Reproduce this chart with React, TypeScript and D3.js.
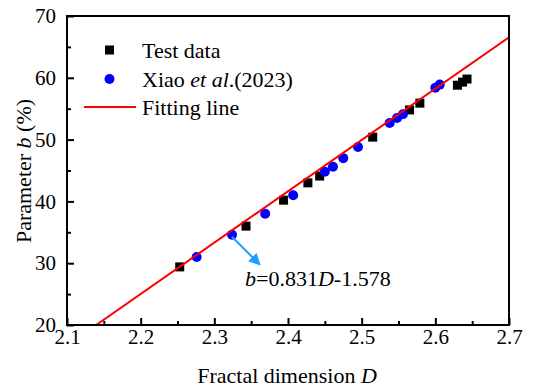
import React, { useEffect, useRef } from "react";
import * as d3 from "d3";

const testD = [2.253, 2.343, 2.394, 2.427, 2.443, 2.515, 2.565, 2.579, 2.63, 2.637, 2.643];
const testB = [29.4, 36.0, 40.2, 43.0, 44.1, 50.4, 54.8, 55.9, 58.8, 59.3, 59.8];

const xiaoD = [2.276, 2.324, 2.369, 2.407, 2.45, 2.461, 2.475, 2.495, 2.538, 2.548, 2.556, 2.6, 2.606];
const xiaoB = [31.0, 34.6, 38.0, 41.0, 44.8, 45.6, 47.0, 48.8, 52.7, 53.5, 54.1, 58.4, 58.9];

const fitSlope = 83.1;
const fitIntercept = -157.8;

const xTicks = [2.1, 2.2, 2.3, 2.4, 2.5, 2.6, 2.7];
const yTicks = [20, 30, 40, 50, 60, 70];

export default function App() {
  const svgRef = useRef<SVGSVGElement>(null);

  useEffect(() => {
    if (!svgRef.current) return;
    const width = 533;
    const height = 390;
    const margin = { top: 16, right: 24, bottom: 65, left: 67 };
    const font = "Liberation Serif";

    const svg = d3.select(svgRef.current);
    svg.selectAll("*").remove();
    svg.attr("width", width).attr("height", height).attr("viewBox", `0 0 ${width} ${height}`);

    const x = d3.scaleLinear().domain([2.1, 2.7]).range([margin.left, width - margin.right]);
    const y = d3.scaleLinear().domain([20, 70]).range([height - margin.bottom, margin.top]);

    const clipId = "plot-clip";
    svg
      .append("clipPath")
      .attr("id", clipId)
      .append("rect")
      .attr("x", margin.left)
      .attr("y", margin.top)
      .attr("width", width - margin.left - margin.right)
      .attr("height", height - margin.top - margin.bottom);

    // fitting line, from where it crosses b = 20 to the right edge
    const d0 = (20 - fitIntercept) / fitSlope;
    const lineData: [number, number][] = [d0, 2.7].map((d) => [d, fitSlope * d + fitIntercept]);
    const linePath = d3
      .line<[number, number]>()
      .x((d) => x(d[0]))
      .y((d) => y(d[1]))(lineData);

    // test data squares
    const sq = 9;
    svg
      .append("g")
      .selectAll("rect")
      .data(testD.map((d, i) => [d, testB[i]]))
      .join("rect")
      .attr("x", (d) => x(d[0]) - sq / 2)
      .attr("y", (d) => y(d[1]) - sq / 2)
      .attr("width", sq)
      .attr("height", sq)
      .attr("fill", "#000");

    // Xiao et al. circles
    svg
      .append("g")
      .selectAll("circle")
      .data(xiaoD.map((d, i) => [d, xiaoB[i]]))
      .join("circle")
      .attr("cx", (d) => x(d[0]))
      .attr("cy", (d) => y(d[1]))
      .attr("r", 5)
      .attr("fill", "#0000ff");

    svg
      .append("path")
      .attr("clip-path", `url(#${clipId})`)
      .attr("d", linePath)
      .attr("stroke", "#ff0000")
      .attr("stroke-width", 2)
      .attr("fill", "none");

    // frame
    svg
      .append("rect")
      .attr("x", margin.left)
      .attr("y", margin.top)
      .attr("width", width - margin.left - margin.right)
      .attr("height", height - margin.top - margin.bottom)
      .attr("fill", "none")
      .attr("stroke", "#000")
      .attr("stroke-width", 2);

    // x axis
    const xAxis = svg
      .append("g")
      .attr("transform", `translate(0,${height - margin.bottom})`)
      .call(d3.axisBottom(x).tickValues(xTicks).tickSize(-7).tickFormat(d3.format(".1f")));
    xAxis.attr("font-family", font).attr("font-size", 21);
    xAxis.select(".domain").remove();
    xAxis.selectAll(".tick line").attr("stroke-width", 2);
    xAxis
      .selectAll(".tick text")
      .attr("fill", "#000")
      .attr("dy", null)
      .attr("y", 19);
    svg
      .append("g")
      .attr("transform", `translate(0,${height - margin.bottom})`)
      .call(
        d3
          .axisBottom(x)
          .tickValues(d3.range(2.15, 2.7, 0.1))
          .tickSize(-4)
          .tickFormat(() => "")
      )
      .call((g) => g.select(".domain").remove())
      .selectAll(".tick line")
      .attr("stroke-width", 2);

    // y axis
    const yAxis = svg
      .append("g")
      .attr("transform", `translate(${margin.left},0)`)
      .call(d3.axisLeft(y).tickValues(yTicks).tickSize(-7));
    yAxis.attr("font-family", font).attr("font-size", 21);
    yAxis.select(".domain").remove();
    yAxis.selectAll(".tick line").attr("stroke-width", 2);
    yAxis.selectAll(".tick text").attr("fill", "#000").attr("x", -11);
    svg
      .append("g")
      .attr("transform", `translate(${margin.left},0)`)
      .call(
        d3
          .axisLeft(y)
          .tickValues([25, 35, 45, 55, 65])
          .tickSize(-4)
          .tickFormat(() => "")
      )
      .call((g) => g.select(".domain").remove())
      .selectAll(".tick line")
      .attr("stroke-width", 2);

    // axis titles
    const xt = svg
      .append("text")
      .attr("x", 287)
      .attr("y", 383)
      .attr("text-anchor", "middle")
      .attr("font-family", font)
      .attr("font-size", 22)
      .attr("fill", "#000");
    xt.append("tspan").text("Fractal dimension ");
    xt.append("tspan").attr("font-style", "italic").text("D");

    const yt = svg
      .append("text")
      .attr("transform", `translate(31,171) rotate(-90)`)
      .attr("text-anchor", "middle")
      .attr("font-family", font)
      .attr("font-size", 22)
      .attr("fill", "#000");
    yt.append("tspan").text("Parameter ");
    yt.append("tspan").attr("font-style", "italic").text("b");
    yt.append("tspan").text(" (%)");

    // legend
    const lg = svg.append("g").attr("font-family", font).attr("font-size", 22).attr("fill", "#000");
    lg.append("rect").attr("x", 105).attr("y", 45.5).attr("width", sq).attr("height", sq).attr("fill", "#000");
    lg.append("text").attr("x", 142).attr("y", 58).text("Test data");
    lg.append("circle").attr("cx", 109.5).attr("cy", 79).attr("r", 5).attr("fill", "#0000ff");
    const lt = lg.append("text").attr("x", 142).attr("y", 87);
    lt.append("tspan").text("Xiao ");
    lt.append("tspan").attr("font-style", "italic").text("et al");
    lt.append("tspan").text(".(2023)");
    lg.append("line")
      .attr("x1", 84)
      .attr("x2", 136)
      .attr("y1", 107)
      .attr("y2", 107)
      .attr("stroke", "#ff0000")
      .attr("stroke-width", 2);
    lg.append("text").attr("x", 142).attr("y", 115).text("Fitting line");

    // annotation arrow
    const defs = svg.append("defs");
    defs
      .append("marker")
      .attr("id", "arrowhead")
      .attr("viewBox", "0 0 10 10")
      .attr("refX", 8)
      .attr("refY", 5)
      .attr("markerWidth", 6)
      .attr("markerHeight", 6)
      .attr("orient", "auto")
      .append("path")
      .attr("d", "M0,0 L10,5 L0,10 z")
      .attr("fill", "#1aa0ff");
    const ax = xiaoD[1];
    const ay = xiaoB[1];
    svg
      .append("line")
      .attr("x1", x(ax))
      .attr("y1", y(ay) + 2)
      .attr("x2", x(ax) + 27)
      .attr("y2", y(ay) + 29)
      .attr("stroke", "#1aa0ff")
      .attr("stroke-width", 2)
      .attr("marker-end", "url(#arrowhead)");

    const eq = svg
      .append("text")
      .attr("x", 245)
      .attr("y", 286)
      .attr("font-family", font)
      .attr("font-size", 22)
      .attr("fill", "#000");
    eq.append("tspan").attr("font-style", "italic").text("b");
    eq.append("tspan").text("=0.831");
    eq.append("tspan").attr("font-style", "italic").text("D");
    eq.append("tspan").text("-1.578");
  }, []);

  return <svg ref={svgRef} style={{ position: "absolute", left: 0, top: 0, background: "#fff" }} />;
}
